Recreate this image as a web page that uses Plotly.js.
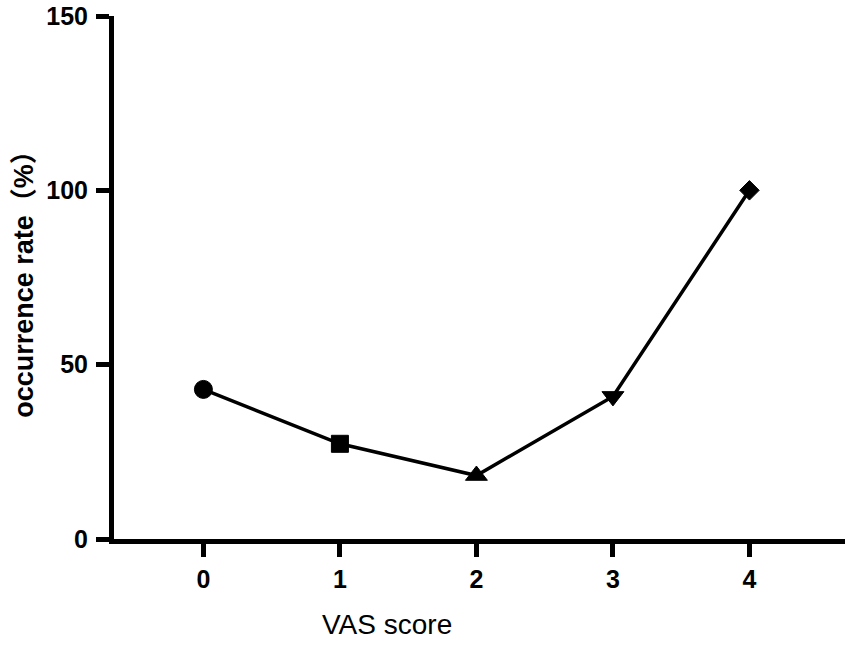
<!DOCTYPE html>
<html>
<head>
<meta charset="utf-8">
<script src="https://cdn.plot.ly/plotly-3.0.1.min.js"></script>
<style>
  html, body { margin: 0; padding: 0; background: #fff; }
  #chart { width: 851px; height: 646px; }
</style>
</head>
<body>
<div id="chart"></div>
<script>
// VAS score vs occurrence rate, one marker shape per score

var vasScores = [0, 1, 2, 3, 4];
var occurrenceRate = [42.9, 27.3, 18.2, 40.9, 100];
var markerSymbols = ['circle', 'square', 'triangle-up', 'triangle-down', 'diamond'];
var yTicks = [0, 50, 100, 150];

var axisFont = {family: 'Arial, "Liberation Sans", sans-serif', size: 25, color: '#000', weight: 'bold'};

var trace = {
    x: vasScores,
    y: occurrenceRate,
    mode: 'lines+markers',
    type: 'scatter',
    line: {color: '#000', width: 3.5},
    marker: {
        symbol: markerSymbols,
        size: [18, 17, 19, 19, 15],
        color: '#000',
        opacity: 1,
        line: {color: '#000', width: 1}
    },
    hoverinfo: 'x+y'
};

var layout = {
    width: 851,
    height: 646,
    showlegend: false,
    paper_bgcolor: '#fff',
    plot_bgcolor: '#fff',
    margin: {l: 114, r: 6, t: 16, b: 107, pad: 0},
    xaxis: {
        range: [-0.655, 4.7],
        tickmode: 'array',
        tickvals: vasScores,
        ticktext: vasScores.map(String),
        ticks: 'outside',
        ticklen: 13,
        tickwidth: 5,
        tickcolor: '#000',
        showline: true,
        linewidth: 5,
        linecolor: '#000',
        showgrid: false,
        zeroline: false,
        tickfont: axisFont,
        ticklabelstandoff: 1
    },
    yaxis: {
        range: [0, 150],
        tickmode: 'array',
        tickvals: yTicks,
        ticks: 'outside',
        ticklen: 13,
        tickwidth: 5,
        tickcolor: '#000',
        showline: true,
        linewidth: 5,
        linecolor: '#000',
        showgrid: false,
        zeroline: false,
        tickfont: axisFont,
        ticklabelstandoff: 3,
        title: {
            text: 'occurrence rate（%）',
            font: {family: 'Arial, "Liberation Sans", "Noto Sans CJK SC", sans-serif', size: 27, color: '#000', weight: 'bold'},
            standoff: 6
        }
    },
    annotations: [{
        text: 'VAS score',
        xref: 'paper',
        yref: 'paper',
        x: (387 - 114) / 731,
        y: -0.13,
        xanchor: 'center',
        yanchor: 'top',
        showarrow: false,
        font: {family: 'Arial, "Liberation Sans", sans-serif', size: 28, color: '#000'}
    }]
};

Plotly.newPlot('chart', [trace], layout, {displayModeBar: false, staticPlot: true});
</script>
</body>
</html>
